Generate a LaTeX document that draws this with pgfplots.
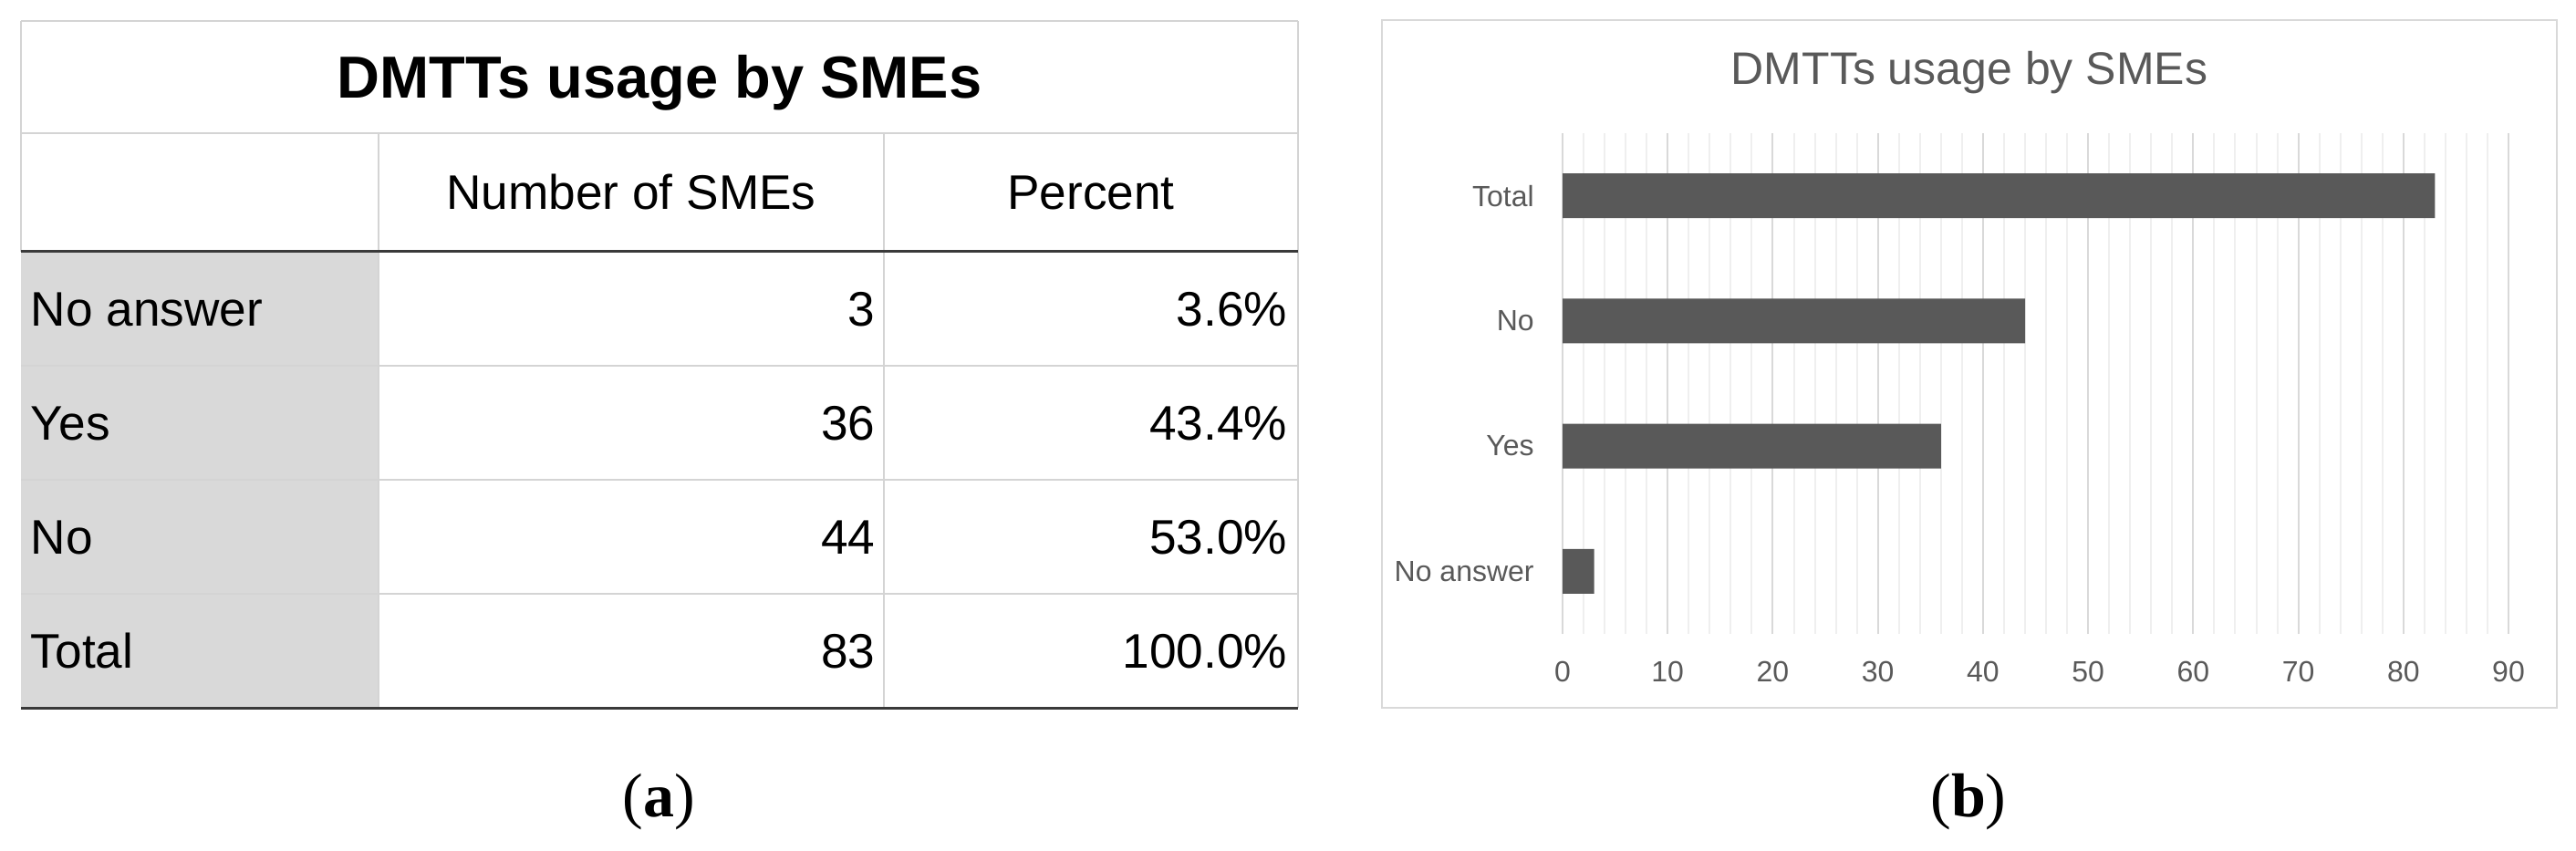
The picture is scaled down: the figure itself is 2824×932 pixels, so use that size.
\documentclass[border=0pt]{standalone}
\usepackage{fontspec}
\setmainfont{Liberation Sans}
\newfontfamily\capfont{Liberation Serif}
\usepackage{pgfplots}
\pgfplotsset{compat=1.18}
\definecolor{txtgray}{HTML}{595959}
\definecolor{barfill}{HTML}{595959}
\definecolor{cellgray}{HTML}{D9D9D9}
\definecolor{rulelight}{HTML}{D4D4D4}
\definecolor{ruledark}{HTML}{3A3A3A}
\definecolor{gridmajor}{HTML}{D9D9D9}
\definecolor{gridminor}{HTML}{EFEFEF}
\newcommand{\bodyfont}{\fontsize{13.3}{16}\selectfont}
\begin{document}
\begin{tikzpicture}
\begin{scope}[x=0.25pt,y=0.25pt]
\path (0,0) rectangle (2824,932);
% (a) table
\fill[cellgray] (23,656) rectangle (415,156);
\draw[rulelight,line width=0.5pt] (23,909) -- (1423,909) (23,909) -- (23,656) (1423,909) -- (1423,156) (23,786) -- (1423,786);
\draw[rulelight,line width=0.5pt] (415,786) -- (415,156) (969,786) -- (969,156);
\draw[rulelight,line width=0.6pt] (23,531) -- (1423,531) (23,406) -- (1423,406) (23,281) -- (1423,281);
\draw[ruledark,line width=0.75pt] (23,656) -- (1423,656) (23,156) -- (1423,156);
\node[anchor=base,inner sep=0,font=\fontsize{16.25}{19}\selectfont\bfseries] at (723,824) {DMTTs usage by SMEs};
\node[anchor=base,inner sep=0,font=\bodyfont] at (692,702) {Number of SMEs};
\node[anchor=base,inner sep=0,font=\bodyfont] at (1196,702) {Percent};
\foreach \lab/\n/\p/\yy in {No answer/3/3.6/574.5, Yes/36/43.4/449.5, No/44/53.0/324.5, Total/83/100.0/199.5}{
  \node[anchor=base west,inner sep=0,font=\bodyfont] at (33,\yy) {\lab};
  \node[anchor=base east,inner sep=0,font=\bodyfont] at (960,\yy) {\n};
  \node[anchor=base east,inner sep=0,font=\bodyfont] at (1412,\yy) {\p\%};
}
\node[anchor=base,inner sep=0,font=\capfont\fontsize{17}{20}\selectfont] at (722,37) {(\textbf{a})};
% (b) chart frame and title
\draw[gridmajor,line width=0.5pt] (1515,910) rectangle (2803,156);
\node[anchor=base,inner sep=0,text=txtgray,font=\fontsize{12.5}{15}\selectfont] at (2159,839) {DMTTs usage by SMEs};
\node[anchor=base,inner sep=0,font=\capfont\fontsize{17}{20}\selectfont] at (2158,37) {(\textbf{b})};
\end{scope}
\begin{axis}[at={(428.25pt,59.25pt)},anchor=south west,scale only axis,
  width=259.25pt,height=137.25pt,
  xmin=0,xmax=90,ymin=0.5,ymax=4.5,
  xbar,bar width=12.25pt,
  axis line style={draw=none},
  xtick={0,10,...,90},minor x tick num=4,
  ytick={1,2,3,4},yticklabels={No answer,Yes,No,Total},
  major tick length=0pt,minor tick length=0pt,
  xmajorgrids,xminorgrids,
  major grid style={gridmajor,line width=0.5pt},
  minor grid style={gridminor,line width=0.5pt},
  tick label style={font=\fontsize{8}{10}\selectfont,text=txtgray},
  xticklabel style={yshift=-4.1pt},
  yticklabel style={xshift=-4.3pt},
  /pgf/number format/assume math mode=true]
\addplot[fill=barfill,draw=none] coordinates {(3,1) (36,2) (44,3) (83,4)};
\end{axis}
\end{tikzpicture}
\end{document}
